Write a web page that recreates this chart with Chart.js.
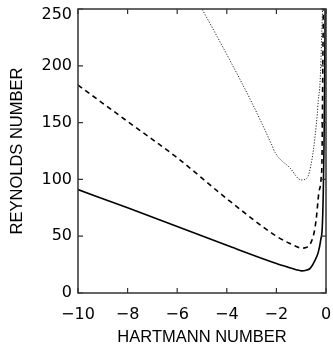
<!DOCTYPE html>
<html>
<head>
<meta charset="utf-8">
<script src="https://cdn.jsdelivr.net/npm/chart.js@4.4.1/dist/chart.umd.min.js"></script>
<style>
  html, body { margin: 0; padding: 0; background: #fff; }
  #wrap { width: 333px; height: 347px; }
</style>
</head>
<body>
<div id="wrap"><canvas id="c"></canvas></div>
<script>
// Hartmann number (x) and Reynolds number (y)
const solidX  = [-10, -8, -6, -4, -2, -1.5, -1.2, -1.0, -0.8, -0.64, -0.44, -0.31, -0.21, -0.15, -0.11, -0.08, -0.05, -0.03];
const solidY  = [91, 75, 58.5, 42, 26, 22.5, 20.5, 19.5, 20, 21.7, 29, 36, 47, 58, 88, 130, 200, 260];

const dashedX = [-10, -8, -6, -4, -2, -1.5, -1.2, -1.0, -0.8, -0.52, -0.4, -0.29, -0.2, -0.16, -0.14, -0.12, -0.1];
const dashedY = [183, 151, 119, 83, 50, 44, 41, 39.5, 40, 49.6, 64, 88, 100, 120, 170, 220, 260];

const dottedX = [-5.15, -4, -3, -2.2, -2.05, -1.45, -1.0, -0.77, -0.57, -0.44, -0.35, -0.31, -0.24, -0.17, -0.13];
const dottedY = [256, 210, 168, 131, 123.5, 110, 99.5, 101, 117, 138, 158, 170, 185, 229, 256];

const xTicks = [-10, -8, -6, -4, -2, 0];
const yTicks = [0, 50, 100, 150, 200, 250];

const xTitle = 'HARTMANN NUMBER';
const yTitle = 'REYNOLDS NUMBER';

function pts(xs, ys) { return xs.map((x, i) => ({ x: x, y: ys[i] })); }
function fmt(v) { return v < 0 ? '\u2212' + Math.abs(v) : String(v); }

const frameColor = '#333';

const framePlugin = {
  id: 'frame',
  afterDatasetsDraw(chart) {
    const ctx = chart.ctx;
    const a = chart.chartArea;
    const xs = chart.scales.x, ys = chart.scales.y;
    ctx.save();
    ctx.strokeStyle = frameColor;
    ctx.lineWidth = 1.5;
    ctx.strokeRect(a.left, a.top, a.right - a.left, a.bottom - a.top);
    ctx.lineWidth = 1.2;
    const L = 5;
    ctx.beginPath();
    xTicks.forEach(v => {
      const px = xs.getPixelForValue(v);
      ctx.moveTo(px, a.bottom); ctx.lineTo(px, a.bottom - L);
      ctx.moveTo(px, a.top); ctx.lineTo(px, a.top + L);
    });
    yTicks.forEach(v => {
      const py = ys.getPixelForValue(v);
      ctx.moveTo(a.left, py); ctx.lineTo(a.left + L, py);
      ctx.moveTo(a.right, py); ctx.lineTo(a.right - L, py);
    });
    ctx.stroke();
    ctx.restore();
  }
};

const lineCommon = { showLine: true, pointRadius: 0, cubicInterpolationMode: 'monotone', fill: false };

new Chart(document.getElementById('c'), {
  type: 'scatter',
  data: {
    datasets: [
      Object.assign({ data: pts(solidX, solidY), borderColor: '#000', borderWidth: 1.6 }, lineCommon),
      Object.assign({ data: pts(dashedX, dashedY), borderColor: '#000', borderWidth: 1.6, borderDash: [5, 4] }, lineCommon),
      Object.assign({ data: pts(dottedX, dottedY), borderColor: '#222', borderWidth: 1, borderDash: [1.2, 1.6] }, lineCommon)
    ]
  },
  options: {
    responsive: true,
    maintainAspectRatio: false,
    animation: false,
    events: [],
    layout: { padding: { top: 9, right: 7, left: 0, bottom: 0 } },
    plugins: { legend: { display: false }, tooltip: { enabled: false } },
    scales: {
      x: {
        type: 'linear', min: -10, max: 0,
        afterBuildTicks(s) { s.ticks = xTicks.map(v => ({ value: v })); },
        afterFit(s) { s.height = 54; s.paddingLeft = 0; s.paddingRight = 0; },
        grid: { display: false, drawTicks: false },
        border: { display: false },
        ticks: { padding: 12, color: '#000', font: { family: 'DejaVu Sans', size: 16 }, callback: v => fmt(v), maxRotation: 0, autoSkip: false },
        title: { display: true, text: xTitle, color: '#000', font: { family: 'Liberation Sans', size: 16.5 }, padding: { top: 0, bottom: 0 } }
      },
      y: {
        type: 'linear', min: 0, max: 250,
        afterBuildTicks(s) { s.ticks = yTicks.map(v => ({ value: v })); },
        afterFit(s) { s.width = 78; s.paddingTop = 0; s.paddingBottom = 0; },
        grid: { display: false, drawTicks: false },
        border: { display: false },
        ticks: { padding: 6, color: '#000', font: { family: 'DejaVu Sans', size: 16, lineHeight: 0.75 },
                 callback: v => (v === 250 ? ['', fmt(v)] : fmt(v)), autoSkip: false },
        title: { display: true, text: yTitle, color: '#000', font: { family: 'Liberation Sans', size: 16.5 }, padding: { top: 8, bottom: 0 } }
      }
    }
  },
  plugins: [framePlugin]
});
</script>
</body>
</html>
